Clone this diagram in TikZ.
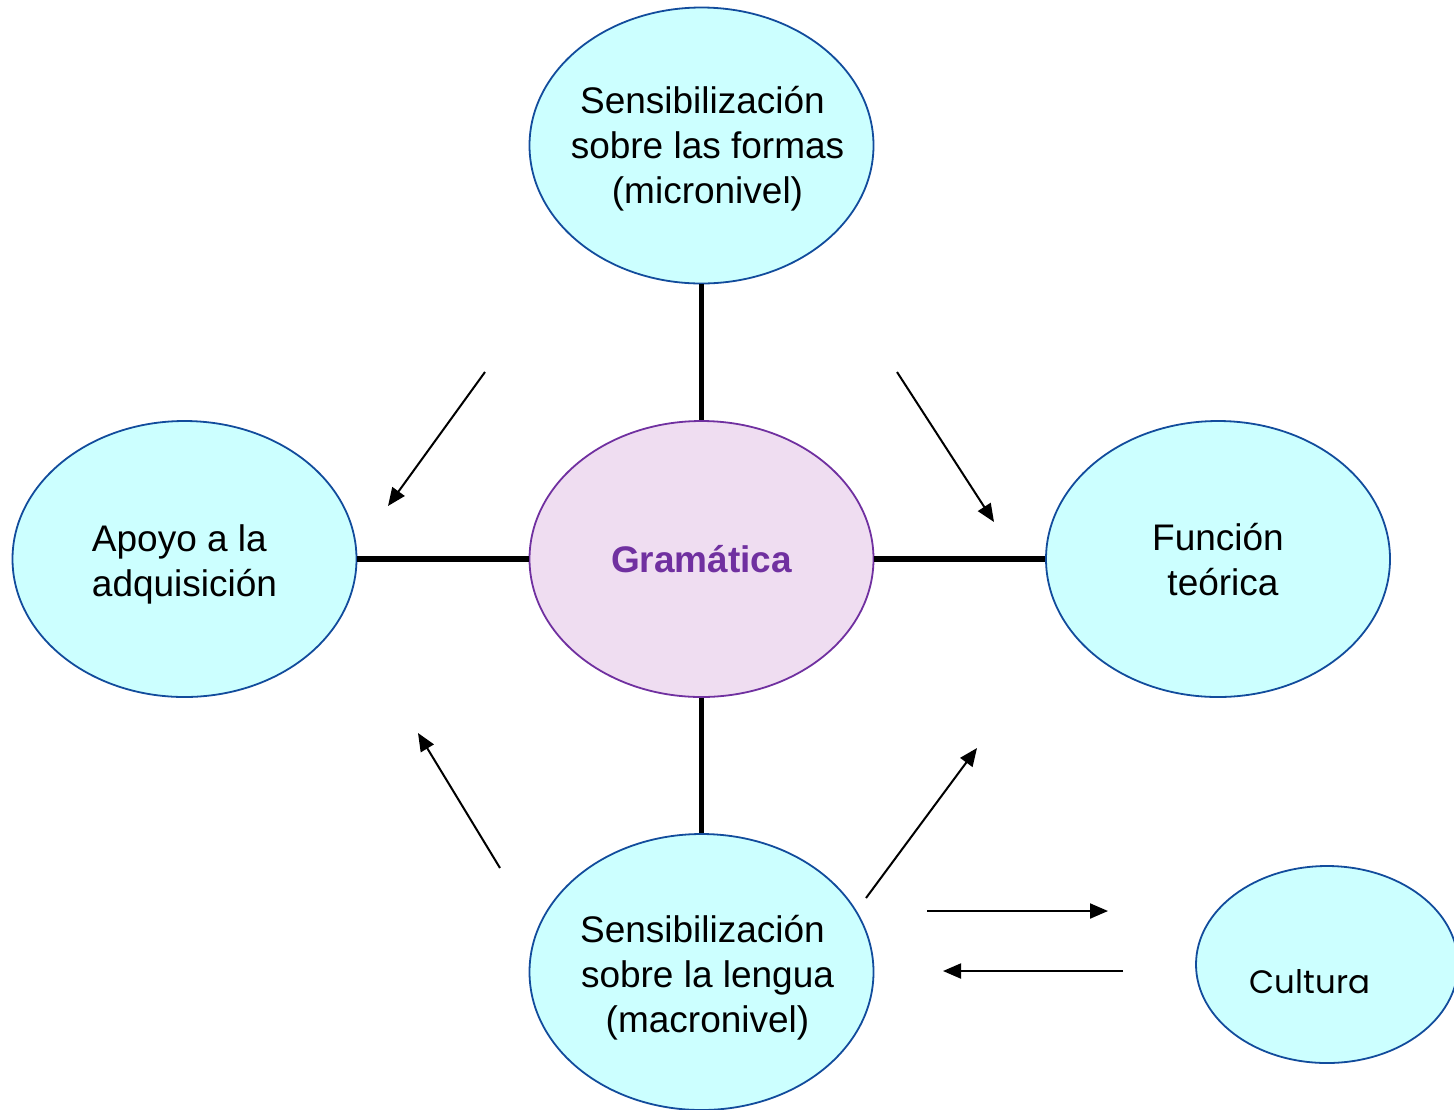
\documentclass[tikz,border=0pt]{standalone}
\usepackage{fontspec}
\setmainfont{Liberation Sans}
\newfontfamily\cultfont{Poppins}
\usetikzlibrary{shapes.geometric,arrows.meta}
\definecolor{cyanfill}{HTML}{CCFFFF}
\definecolor{cyanline}{HTML}{124C9C}
\definecolor{lavfill}{HTML}{EFDDF1}
\definecolor{purp}{HTML}{7030A0}
\newcommand{\zc}[3][0pt]{\makebox[0pt]{\hspace*{#1}\raisebox{#2}[\height][\depth]{\begin{tabular}{@{}c@{}}#3\end{tabular}}}}
\newcommand{\zl}[2]{\makebox[0pt]{\raisebox{#1}[\height][\depth]{\begin{tabular}{@{}l@{}}#2\end{tabular}}}}
\begin{document}
\begin{tikzpicture}[x=0.5pt,y=-0.5pt,
  ell/.style={ellipse, draw=cyanline, fill=cyanfill, line width=0.9pt, inner sep=0pt,
    minimum width=172pt, minimum height=138pt, font=\fontsize{18.5}{22.5}\selectfont},
  gramell/.style={ell, draw=purp, fill=lavfill, text=purp, font=\fontsize{18.5}{22.5}\selectfont\bfseries},
  bar/.style={line width=2.7pt},
  arr/.style={line width=1pt, -{Triangle[length=9pt,width=7.5pt]}}]
\useasboundingbox (0,0) rectangle (1454,1109);
\clip (0,0) rectangle (1454,1109);
\fill[white] (0,0) rectangle (1454,1109);

\node[ell] (top) at (701.5,145.5) {\zc[6pt]{-2pt}{Sensibilización\hspace*{5pt}\\ sobre las formas\\ (micronivel)}};
\node[gramell] (gram) at (701.5,559) {Gramática};
\node[ell] (left) at (184.5,559) {\zl{-3pt}{Apoyo a la\\ adquisición}};
\node[ell] (right) at (1218,559) {\zc[5pt]{-2.5pt}{Función\hspace*{5pt}\\ teórica}};
\node[ell] (bot) at (701.5,972) {\zc[6pt]{-3pt}{Sensibilización\hspace*{5pt}\\ sobre la lengua\\ (macronivel)}};
\node[ell, minimum width=131pt, minimum height=98.5pt,
  label={[font=\cultfont\fontsize{16.2}{19}\selectfont, xshift=-8.5pt, yshift=-8.75pt]center:Cultura}] (cult) at (1327,964.5) {};

\draw[bar] (top) -- (gram);
\draw[bar] (left) -- (gram);
\draw[bar] (gram) -- (right);
\draw[bar] (gram) -- (bot);

\coordinate (a1s) at (485,372);  \coordinate (a1e) at (388,506);
\coordinate (a2s) at (897,372);  \coordinate (a2e) at (994,522);
\coordinate (a3s) at (500,868);  \coordinate (a3e) at (418,733);
\coordinate (a4s) at (866,898);  \coordinate (a4e) at (977,748);
\coordinate (a5s) at (927,911);  \coordinate (a5e) at (1108,911);
\coordinate (a6s) at (1123,971); \coordinate (a6e) at (943,971);
\draw[arr] (a1s) -- (a1e);
\draw[arr] (a2s) -- (a2e);
\draw[arr] (a3s) -- (a3e);
\draw[arr] (a4s) -- (a4e);
\draw[arr] (a5s) -- (a5e);
\draw[arr] (a6s) -- (a6e);
\end{tikzpicture}
\end{document}
